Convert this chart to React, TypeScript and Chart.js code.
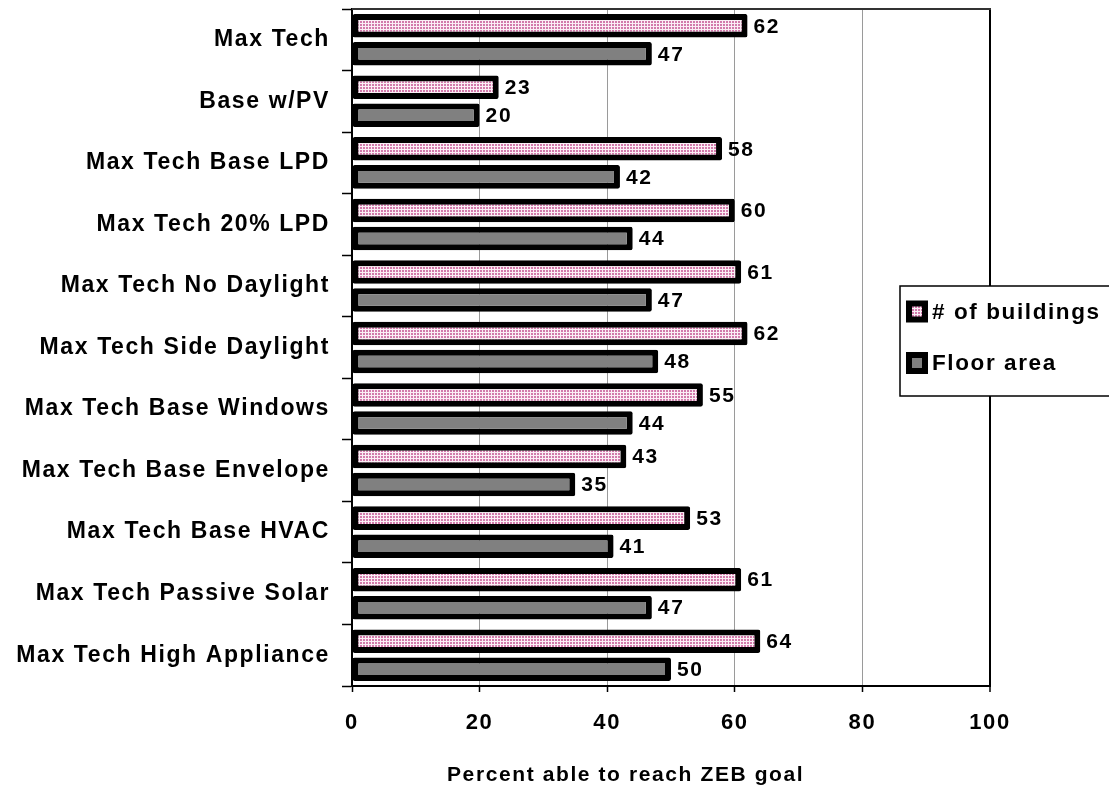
import { useEffect, useRef } from 'react';
import { Chart, registerables } from 'chart.js';

Chart.register(...registerables);

const categories = [
  'Max Tech',
  'Base w/PV',
  'Max Tech Base LPD',
  'Max Tech 20% LPD',
  'Max Tech No Daylight',
  'Max Tech Side Daylight',
  'Max Tech Base Windows',
  'Max Tech Base Envelope',
  'Max Tech Base HVAC',
  'Max Tech Passive Solar',
  'Max Tech High Appliance',
];
const buildingsValues = [62, 23, 58, 60, 61, 62, 55, 43, 53, 61, 64];
const floorAreaValues = [47, 20, 42, 44, 47, 48, 44, 35, 41, 47, 50];
const seriesNames = ['# of buildings', 'Floor area'];
const xAxisTitle = 'Percent able to reach ZEB goal';
const xMin = 0;
const xMax = 100;
const xStep = 20;

const FONT = '"Liberation Sans", Arial, Helvetica, sans-serif';
const SPACING = '1.6px';

function makePattern(): CanvasPattern | string {
  const c = document.createElement('canvas');
  c.width = 3;
  c.height = 3;
  const g = c.getContext('2d');
  if (!g) return '#e0b0cc';
  g.fillStyle = '#fbeef5';
  g.fillRect(0, 0, 3, 3);
  g.fillStyle = '#d27aab';
  g.fillRect(0, 0, 2, 2);
  return g.createPattern(c, 'repeat') || '#e0b0cc';
}

export default function App() {
  const ref = useRef<HTMLCanvasElement | null>(null);

  useEffect(() => {
    document.body.style.margin = '0';
    const canvas = ref.current;
    if (!canvas) return;
    const pattern = makePattern();
    const gray = '#808080';

    const setSpacing = (chart: any) => {
      try {
        chart.ctx.letterSpacing = SPACING;
      } catch (e) {}
    };

    const spacingPlugin = {
      id: 'spacingPlugin',
      beforeUpdate: setSpacing,
      beforeLayout: setSpacing,
      beforeDraw: setSpacing,
    };

    const framePlugin = {
      id: 'framePlugin',
      beforeDatasetsDraw(chart: any) {
        const { ctx, chartArea } = chart;
        ctx.save();
        ctx.strokeStyle = '#333333';
        ctx.lineWidth = 2;
        ctx.beginPath();
        ctx.moveTo(chartArea.left, chartArea.top);
        ctx.lineTo(chartArea.right + 1, chartArea.top);
        ctx.stroke();
        ctx.restore();
      },
    };

    const labelPlugin = {
      id: 'labelPlugin',
      afterDatasetsDraw(chart: any) {
        const ctx = chart.ctx;
        ctx.save();
        ctx.font = `bold 21px ${FONT}`;
        ctx.fillStyle = '#000';
        ctx.textAlign = 'left';
        ctx.textBaseline = 'middle';
        chart.data.datasets.forEach((ds: any, di: number) => {
          const meta = chart.getDatasetMeta(di);
          meta.data.forEach((el: any, i: number) => {
            ctx.fillText(String(ds.data[i]), el.x + 6, el.y + 1);
          });
        });
        ctx.restore();
      },
    };

    const legendTitlePlugin = {
      id: 'legendTitlePlugin',
      afterDraw(chart: any) {
        const ctx = chart.ctx;
        ctx.save();
        // axis title
        ctx.font = `bold 21px ${FONT}`;
        ctx.fillStyle = '#000';
        ctx.textAlign = 'left';
        ctx.textBaseline = 'middle';
        ctx.fillText(xAxisTitle, 447, 775);
        // legend box
        const bx = 900, by = 286, bw = 220, bh = 110;
        ctx.fillStyle = '#ffffff';
        ctx.fillRect(bx, by, bw, bh);
        ctx.strokeStyle = '#000';
        ctx.lineWidth = 1.5;
        ctx.strokeRect(bx, by, bw, bh);
        const rows = [311.5, 363];
        const fills = [pattern, gray];
        ctx.font = `bold 22.5px ${FONT}`;
        rows.forEach((cy, i) => {
          ctx.fillStyle = '#000';
          ctx.fillRect(906, cy - 11, 22, 22);
          ctx.fillStyle = fills[i] as any;
          ctx.fillRect(912, cy - 5, 10, 10);
          ctx.fillStyle = '#000';
          ctx.fillText(seriesNames[i], 932, cy + 1);
        });
        ctx.restore();
      },
    };

    const tickFont = { family: FONT, size: 23, weight: 'bold' as const };

    const chart = new Chart(canvas, {
      type: 'bar',
      data: {
        labels: categories,
        datasets: [
          {
            label: seriesNames[0],
            data: buildingsValues,
            backgroundColor: pattern as any,
            borderColor: '#000',
            borderWidth: 6,
            borderSkipped: false,
            borderRadius: 2,
            categoryPercentage: 0.91,
            barPercentage: 0.84,
          },
          {
            label: seriesNames[1],
            data: floorAreaValues,
            backgroundColor: gray,
            borderColor: '#000',
            borderWidth: 6,
            borderSkipped: false,
            borderRadius: 2,
            categoryPercentage: 0.91,
            barPercentage: 0.84,
          },
        ],
      },
      options: {
        indexAxis: 'y',
        animation: false,
        responsive: false,
        devicePixelRatio: 1,
        layout: { padding: { top: 9, right: 119, bottom: 0, left: 0 } },
        plugins: {
          legend: { display: false },
          tooltip: { enabled: false },
          title: { display: false },
        },
        scales: {
          x: {
            type: 'linear',
            min: xMin,
            max: xMax,
            ticks: {
              stepSize: xStep,
              color: '#000',
              font: { family: FONT, size: 22, weight: 'bold' as const },
              padding: 18,
            },
            grid: {
              color: (c: any) =>
                c.tick && c.tick.value === xMax
                  ? '#000'
                  : c.tick && c.tick.value === xMin
                  ? 'rgba(0,0,0,0)'
                  : '#9a9a9a',
              lineWidth: (c: any) => (c.tick && c.tick.value === xMax ? 2 : 1),
              tickColor: '#000',
              tickLength: 6,
              tickWidth: 1.5,
              drawTicks: true,
            },
            border: { display: true, color: '#000', width: 2 },
            afterFit(scale: any) {
              scale.height = 104;
              scale.paddingLeft = 0;
              scale.paddingRight = 0;
            },
          },
          y: {
            type: 'category',
            ticks: {
              color: '#000',
              font: tickFont,
              padding: 12,
              autoSkip: false,
            },
            grid: {
              offset: true,
              drawOnChartArea: false,
              drawTicks: true,
              tickLength: 10,
              tickColor: '#000',
              tickWidth: 1.5,
            },
            border: { display: true, color: '#000', width: 2 },
            afterFit(scale: any) {
              scale.width = 352;
              scale.paddingTop = 0;
              scale.paddingBottom = 0;
            },
          },
        },
      },
      plugins: [spacingPlugin, framePlugin, labelPlugin, legendTitlePlugin],
    } as any);

    return () => {
      chart.destroy();
    };
  }, []);

  return (
    <div style={{ width: 1109, height: 790, position: 'relative' }}>
      <canvas ref={ref} width={1109} height={790} style={{ display: 'block' }} />
    </div>
  );
}
